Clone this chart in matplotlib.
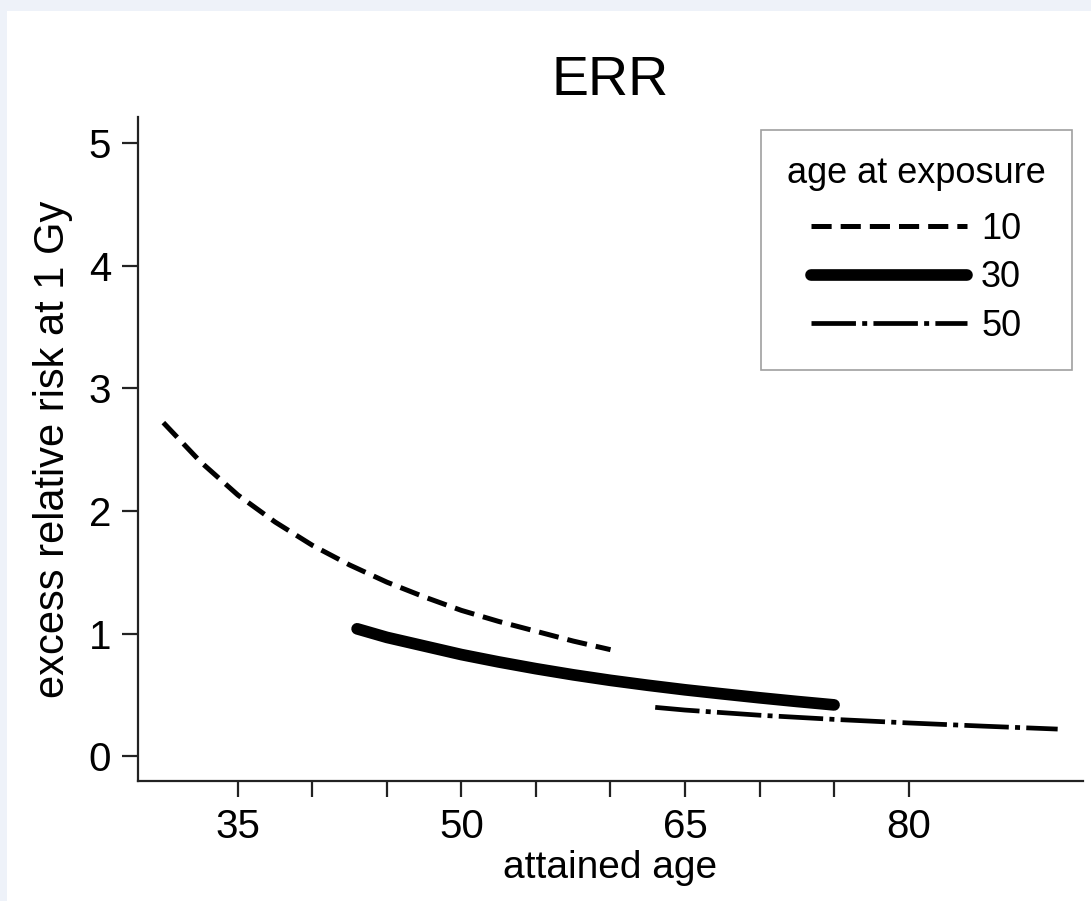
import matplotlib
matplotlib.use('Agg')
import matplotlib.pyplot as plt
from matplotlib.patches import Rectangle

plt.rcParams['font.family'] = ['Liberation Sans', 'DejaVu Sans']
plt.rcParams['lines.scale_dashes'] = False

# 读图得到的数据 (attained age -> ERR at 1 Gy)
age_exp_10 = [30, 32.5, 35, 37.5, 40, 42.5, 45, 47.5, 50, 52.5, 55, 57.5, 60]
err_exp_10 = [2.72, 2.40, 2.13, 1.91, 1.72, 1.56, 1.42, 1.30, 1.19, 1.10, 1.02, 0.94, 0.87]

age_exp_30 = [43, 45, 47.5, 50, 52.5, 55, 57.5, 60, 62.5, 65, 67.5, 70, 72.5, 75]
err_exp_30 = [1.04, 0.97, 0.90, 0.83, 0.77, 0.715, 0.665, 0.62, 0.58, 0.543, 0.51, 0.478, 0.448, 0.42]

age_exp_50 = [63, 65, 70, 75, 80, 85, 90]
err_exp_50 = [0.40, 0.378, 0.336, 0.302, 0.273, 0.247, 0.223]

x_ticks = [35, 40, 45, 50, 55, 60, 65, 70, 75, 80]
x_labels = ['35', '', '', '50', '', '', '65', '', '', '80']
y_ticks = [0, 1, 2, 3, 4, 5]

W, H = 1091, 901
fig = plt.figure(figsize=(W / 100, H / 100), dpi=100, facecolor='#eef2f9')
# 白色底板
fig.patches.append(Rectangle((7 / W, 0), 1, 1 - 11 / H, transform=fig.transFigure,
                             facecolor='white', edgecolor='none', zorder=-10))

ax = fig.add_axes([138 / W, 1 - 781 / H, (1083 - 138) / W, (781 - 117) / H])
ax.set_facecolor('none')

ax.plot(age_exp_10, err_exp_10, color='black', lw=3.6, linestyle=(0, (14.5, 6.5)),
        label='10')
ax.plot(age_exp_30, err_exp_30, color='black', lw=8.4, solid_capstyle='round',
        label='30')
ax.plot(age_exp_50, err_exp_50, color='black', lw=3.4, linestyle=(0, (32, 4.5, 3.6, 4.5)),
        label='50')

ax.set_xlim(28.3, 91.7)
ax.set_ylim(-0.2, 5.21)
ax.set_xticks(x_ticks)
ax.set_xticklabels(x_labels)
ax.set_yticks(y_ticks)

for s in ['top', 'right']:
    ax.spines[s].set_visible(False)
for s in ['left', 'bottom']:
    ax.spines[s].set_linewidth(1.6)
    ax.spines[s].set_color('#222222')
ax.tick_params(direction='out', length=11.5, width=1.6, color='#222222',
               labelsize=29, pad=8)

ax.set_title('ERR', fontsize=40, pad=16)
ax.set_xlabel('attained age', fontsize=28, labelpad=3)
ax.set_ylabel('excess relative risk at 1 Gy', fontsize=30, labelpad=11)

leg = ax.legend(title='age at exposure', loc='upper right', bbox_to_anchor=(0.988, 0.980),
                borderaxespad=0, fontsize=26, title_fontsize=26, handlelength=4.3,
                handletextpad=0.4, labelspacing=0.37, borderpad=0.72,
                frameon=True, fancybox=False)
leg._legend_box.sep = 15
leg.get_frame().set_edgecolor('#888888')
leg.get_frame().set_linewidth(1.2)

fig.savefig('out.png', dpi=100, facecolor=fig.get_facecolor())
